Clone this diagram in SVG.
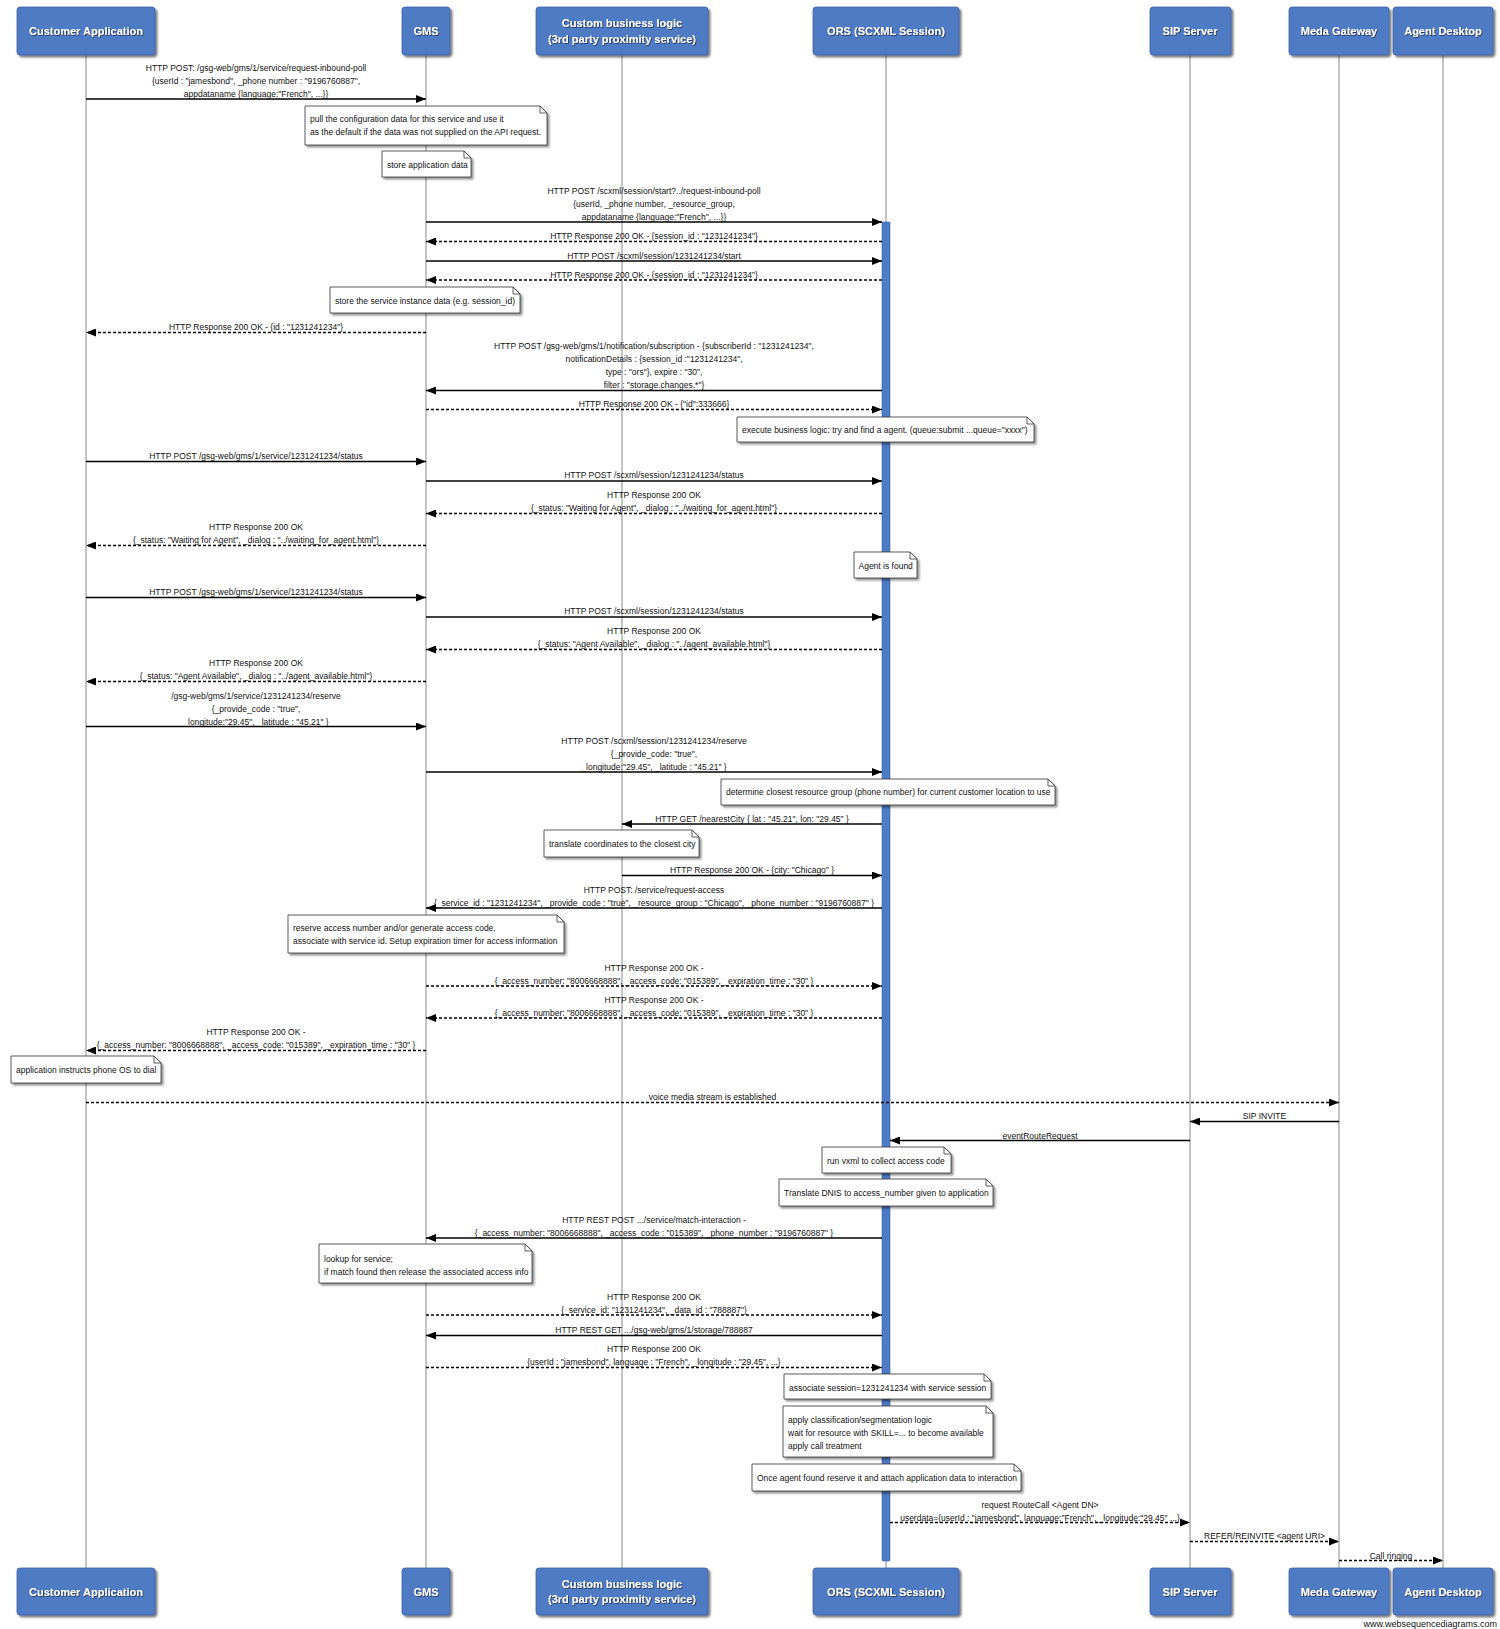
<svg xmlns="http://www.w3.org/2000/svg" width="1500" height="1629" viewBox="0 0 1500 1629">
<style>
.bg{fill:#fff}
.life{stroke:#8a8a8a;stroke-width:1;fill:none}
.pbox{fill:#4f7ac4;stroke:#3d62a6;stroke-width:0.8;filter:url(#bs)}
.pt{font-family:"Liberation Sans",Arial,sans-serif;font-size:11px;font-weight:bold;fill:#fff;text-anchor:middle;filter:url(#ts)}
.m{font-family:"Liberation Sans",Arial,sans-serif;font-size:8.5px;fill:#111;text-anchor:middle}
.nt{font-family:"Liberation Sans",Arial,sans-serif;font-size:8.5px;fill:#111;text-anchor:start}
.ln{stroke:#000;stroke-width:1.4;fill:none;marker-end:url(#ah)}
.ds{stroke-dasharray:3,2}
.nb{fill:#fff;stroke:#333;stroke-width:0.8;filter:url(#ns)}
.nf{fill:none;stroke:#333;stroke-width:0.8}
.act{fill:#4f7ac4;stroke:#3d62a6;stroke-width:0.6}
.foot{font-family:"Liberation Sans",Arial,sans-serif;font-size:9px;fill:#111;text-anchor:end}
</style>
<defs>
<filter id="bs" x="-10%" y="-10%" width="130%" height="140%"><feDropShadow dx="2" dy="2" stdDeviation="1.3" flood-color="#000" flood-opacity="0.55"/></filter>
<filter id="ns" x="-10%" y="-20%" width="130%" height="150%"><feDropShadow dx="2" dy="2" stdDeviation="1" flood-color="#000" flood-opacity="0.45"/></filter>
<filter id="ts" x="-10%" y="-30%" width="130%" height="170%"><feDropShadow dx="0.8" dy="0.8" stdDeviation="0.4" flood-color="#1b2a4a" flood-opacity="0.9"/></filter>
<marker id="ah" viewBox="0 0 10 8" refX="10" refY="4" markerWidth="10" markerHeight="8" markerUnits="userSpaceOnUse" orient="auto"><path d="M0,0 L10,4 L0,8 z" fill="#000"/></marker>
</defs>
<rect class="bg" x="0" y="0" width="1500" height="1629"/>

<g id="lifelines">
<line class="life" x1="86" y1="55" x2="86" y2="1568"/>
<line class="life" x1="426" y1="55" x2="426" y2="1568"/>
<line class="life" x1="622" y1="55" x2="622" y2="1568"/>
<line class="life" x1="886" y1="55" x2="886" y2="1568"/>
<line class="life" x1="1190" y1="55" x2="1190" y2="1568"/>
<line class="life" x1="1339" y1="55" x2="1339" y2="1568"/>
<line class="life" x1="1443" y1="55" x2="1443" y2="1568"/>
</g>

<g id="activation-ors">
<rect class="act" x="882" y="222" width="8" height="1339" rx="1"/>
</g>

<g id="p-customer">
<rect class="pbox" x="17" y="7" width="138" height="48" rx="3"/>
<text class="pt" x="86" y="35">Customer Application</text>
<rect class="pbox" x="17" y="1568" width="138" height="47" rx="3"/>
<text class="pt" x="86" y="1595.5">Customer Application</text>
</g>
<g id="p-gms">
<rect class="pbox" x="402" y="7" width="48" height="48" rx="3"/>
<text class="pt" x="426" y="35">GMS</text>
<rect class="pbox" x="402" y="1568" width="48" height="47" rx="3"/>
<text class="pt" x="426" y="1595.5">GMS</text>
</g>
<g id="p-custom">
<rect class="pbox" x="536" y="7" width="172" height="48" rx="3"/>
<text class="pt" x="622" y="27">Custom business logic</text>
<text class="pt" x="622" y="43">(3rd party proximity service)</text>
<rect class="pbox" x="536" y="1568" width="172" height="47" rx="3"/>
<text class="pt" x="622" y="1587.7">Custom business logic</text>
<text class="pt" x="622" y="1603.3">(3rd party proximity service)</text>
</g>
<g id="p-ors">
<rect class="pbox" x="813" y="7" width="146" height="48" rx="3"/>
<text class="pt" x="886" y="35">ORS (SCXML Session)</text>
<rect class="pbox" x="813" y="1568" width="146" height="47" rx="3"/>
<text class="pt" x="886" y="1595.5">ORS (SCXML Session)</text>
</g>
<g id="p-sip">
<rect class="pbox" x="1150" y="7" width="81" height="48" rx="3"/>
<text class="pt" x="1190" y="35">SIP Server</text>
<rect class="pbox" x="1150" y="1568" width="81" height="47" rx="3"/>
<text class="pt" x="1190" y="1595.5">SIP Server</text>
</g>
<g id="p-media">
<rect class="pbox" x="1289" y="7" width="100" height="48" rx="3"/>
<text class="pt" x="1339" y="35">Meda Gateway</text>
<rect class="pbox" x="1289" y="1568" width="100" height="47" rx="3"/>
<text class="pt" x="1339" y="1595.5">Meda Gateway</text>
</g>
<g id="p-agent">
<rect class="pbox" x="1393" y="7" width="100" height="48" rx="3"/>
<text class="pt" x="1443" y="35">Agent Desktop</text>
<rect class="pbox" x="1393" y="1568" width="100" height="47" rx="3"/>
<text class="pt" x="1443" y="1595.5">Agent Desktop</text>
</g>

<g id="connectors">
<line class="ln" x1="86" y1="99" x2="426" y2="99"/>
<text class="m" x="256" y="71">HTTP POST: /gsg-web/gms/1/service/request-inbound-poll</text>
<text class="m" x="256" y="84">{userId : "jamesbond", _phone number : "9196760887",</text>
<text class="m" x="256" y="97">appdataname {language:"French", ...}}</text>

<line class="ln" x1="426" y1="222" x2="882" y2="222"/>
<text class="m" x="654" y="194">HTTP POST /scxml/session/start?../request-inbound-poll</text>
<text class="m" x="654" y="207">{userId, _phone number, _resource_group,</text>
<text class="m" x="654" y="220">appdataname {language:"French", ...}}</text>

<line class="ln ds" x1="882" y1="241.5" x2="426" y2="241.5"/>
<text class="m" x="654" y="239">HTTP Response 200 OK - {session_id : "1231241234"}</text>

<line class="ln" x1="426" y1="261" x2="882" y2="261"/>
<text class="m" x="654" y="258.5">HTTP POST /scxml/session/1231241234/start</text>

<line class="ln ds" x1="882" y1="280" x2="426" y2="280"/>
<text class="m" x="654" y="277.5">HTTP Response 200 OK - {session_id : "1231241234"}</text>

<line class="ln ds" x1="426" y1="332.5" x2="86" y2="332.5"/>
<text class="m" x="256" y="329.5">HTTP Response 200 OK - {id : "1231241234"}</text>

<line class="ln" x1="882" y1="390.5" x2="426" y2="390.5"/>
<text class="m" x="654" y="349">HTTP POST /gsg-web/gms/1/notification/subscription - {subscriberId : "1231241234",</text>
<text class="m" x="654" y="362">notificationDetails : {session_id :"1231241234",</text>
<text class="m" x="654" y="375">type : "ors"}, expire : "30",</text>
<text class="m" x="654" y="388">filter : "storage.changes.*"}</text>

<line class="ln ds" x1="426" y1="409.5" x2="882" y2="409.5"/>
<text class="m" x="654" y="407">HTTP Response 200 OK - {"id":333666}</text>

<line class="ln" x1="86" y1="461.5" x2="426" y2="461.5"/>
<text class="m" x="256" y="459">HTTP POST /gsg-web/gms/1/service/1231241234/status</text>

<line class="ln" x1="426" y1="481" x2="882" y2="481"/>
<text class="m" x="654" y="478">HTTP POST /scxml/session/1231241234/status</text>

<line class="ln ds" x1="882" y1="513.5" x2="426" y2="513.5"/>
<text class="m" x="654" y="498">HTTP Response 200 OK</text>
<text class="m" x="654" y="511">{_status: "Waiting for Agent", _dialog : "../waiting_for_agent.html"}</text>

<line class="ln ds" x1="426" y1="545.5" x2="86" y2="545.5"/>
<text class="m" x="256" y="530">HTTP Response 200 OK</text>
<text class="m" x="256" y="543">{_status: "Waiting for Agent", _dialog : "../waiting_for_agent.html"}</text>

<line class="ln" x1="86" y1="597.5" x2="426" y2="597.5"/>
<text class="m" x="256" y="595">HTTP POST /gsg-web/gms/1/service/1231241234/status</text>

<line class="ln" x1="426" y1="617" x2="882" y2="617"/>
<text class="m" x="654" y="614">HTTP POST /scxml/session/1231241234/status</text>

<line class="ln ds" x1="882" y1="649.5" x2="426" y2="649.5"/>
<text class="m" x="654" y="634">HTTP Response 200 OK</text>
<text class="m" x="654" y="647">{_status: "Agent Available", _dialog : "../agent_available.html"}</text>

<line class="ln ds" x1="426" y1="681.5" x2="86" y2="681.5"/>
<text class="m" x="256" y="666">HTTP Response 200 OK</text>
<text class="m" x="256" y="679">{_status: "Agent Available", _dialog : "../agent_available.html"}</text>

<line class="ln" x1="86" y1="726.5" x2="426" y2="726.5"/>
<text class="m" x="256" y="698.5">/gsg-web/gms/1/service/1231241234/reserve</text>
<text class="m" x="256" y="711.5">{_provide_code : "true",</text>
<text class="m" x="256" y="724.5">_longitude:"29.45", _latitude : "45.21" }</text>

<line class="ln" x1="426" y1="772" x2="882" y2="772"/>
<text class="m" x="654" y="744">HTTP POST /scxml/session/1231241234/reserve</text>
<text class="m" x="654" y="757">{_provide_code: "true",</text>
<text class="m" x="654" y="770">_longitude:"29.45", _latitude : "45.21" }</text>

<line class="ln" x1="882" y1="824" x2="622" y2="824"/>
<text class="m" x="752" y="821.5">HTTP GET /nearestCity { lat : "45.21", lon: "29.45" }</text>

<line class="ln" x1="622" y1="875.5" x2="882" y2="875.5"/>
<text class="m" x="752" y="873">HTTP Response 200 OK - {city: "Chicago" }</text>

<line class="ln" x1="882" y1="908" x2="426" y2="908"/>
<text class="m" x="654" y="892.5">HTTP POST: /service/request-access</text>
<text class="m" x="654" y="905.5">{_service_id : "1231241234", _provide_code : "true", _resource_group : "Chicago", _phone_number : "9196760887" }</text>

<line class="ln ds" x1="426" y1="986" x2="882" y2="986"/>
<text class="m" x="654" y="970.5">HTTP Response 200 OK -</text>
<text class="m" x="654" y="983.5">{_access_number: "8006668888", _access_code: "015389", _expiration_time : "30" }</text>

<line class="ln ds" x1="882" y1="1018" x2="426" y2="1018"/>
<text class="m" x="654" y="1002.5">HTTP Response 200 OK -</text>
<text class="m" x="654" y="1015.5">{_access_number: "8006668888", _access_code: "015389", _expiration_time : "30" }</text>

<line class="ln ds" x1="426" y1="1050.5" x2="86" y2="1050.5"/>
<text class="m" x="256" y="1035">HTTP Response 200 OK -</text>
<text class="m" x="256" y="1048">{_access_number: "8006668888", _access_code: "015389", _expiration_time : "30" }</text>

<line class="ln ds" x1="86" y1="1102.5" x2="1339" y2="1102.5"/>
<text class="m" x="712.5" y="1100">voice media stream is established</text>

<line class="ln" x1="1339" y1="1121.5" x2="1190" y2="1121.5"/>
<text class="m" x="1264.5" y="1119">SIP INVITE</text>

<line class="ln" x1="1190" y1="1140.5" x2="890" y2="1140.5"/>
<text class="m" x="1040" y="1138.5">eventRouteRequest</text>

<line class="ln" x1="882" y1="1238" x2="426" y2="1238"/>
<text class="m" x="654" y="1222.5">HTTP REST POST .../service/match-interaction -</text>
<text class="m" x="654" y="1235.5">{_access_number: "8006668888", _access_code : "015389", _phone_number : "9196760887" }</text>

<line class="ln ds" x1="426" y1="1315" x2="882" y2="1315"/>
<text class="m" x="654" y="1300">HTTP Response 200 OK</text>
<text class="m" x="654" y="1313">{_service_id: "1231241234", _data_id : "788887"}</text>

<line class="ln" x1="882" y1="1335.5" x2="426" y2="1335.5"/>
<text class="m" x="654" y="1332.5">HTTP REST GET .../gsg-web/gms/1/storage/788887</text>

<line class="ln ds" x1="426" y1="1367.5" x2="882" y2="1367.5"/>
<text class="m" x="654" y="1352">HTTP Response 200 OK</text>
<text class="m" x="654" y="1365">{userId : "jamesbond", language : "French", _longitude : "29.45", ...}</text>

<line class="ln ds" x1="890" y1="1522.5" x2="1190" y2="1522.5"/>
<text class="m" x="1040" y="1507.5">request RouteCall &lt;Agent DN&gt;</text>
<text class="m" x="1040" y="1520.5">userdata={userId : "jamesbond", language:"French", _longitude:"29.45" ...}</text>

<line class="ln ds" x1="1190" y1="1541.5" x2="1339" y2="1541.5"/>
<text class="m" x="1264.5" y="1539">REFER/REINVITE &lt;agent URI&gt;</text>

<line class="ln ds" x1="1339" y1="1560.5" x2="1443" y2="1560.5"/>
<text class="m" x="1391" y="1558.5">Call ringing</text>
</g>

<g id="note-config">
<path class="nb" d="M305,106 H540 L547,113 V145 H305 Z"/><path class="nf" d="M540,106 V113 H547"/>
<text class="nt" x="310" y="122">pull the configuration data for this service and use it</text>
<text class="nt" x="310" y="135">as the default if the data was not supplied on the API request.</text>
</g>
<g id="note-store-app">
<path class="nb" d="M382,151 H464 L471,158 V177 H382 Z"/><path class="nf" d="M464,151 V158 H471"/>
<text class="nt" x="387" y="167.5">store application data</text>
</g>
<g id="note-store-instance">
<path class="nb" d="M330,287 H513 L520,294 V313 H330 Z"/><path class="nf" d="M513,287 V294 H520"/>
<text class="nt" x="335" y="303.5">store the service instance data (e.g. session_id)</text>
</g>
<g id="note-execute">
<path class="nb" d="M737,417 H1027 L1034,424 V442 H737 Z"/><path class="nf" d="M1027,417 V424 H1034"/>
<text class="nt" x="742" y="433">execute business logic: try and find a agent. (queue:submit ...queue="xxxx")</text>
</g>
<g id="note-agent-found">
<path class="nb" d="M854,552 H910 L917,559 V578 H854 Z"/><path class="nf" d="M910,552 V559 H917"/>
<text class="nt" x="858.5" y="568.5">Agent is found</text>
</g>
<g id="note-determine">
<path class="nb" d="M721,779 H1048 L1055,786 V805 H721 Z"/><path class="nf" d="M1048,779 V786 H1055"/>
<text class="nt" x="726" y="795">determine closest resource group (phone number) for current customer location to use</text>
</g>
<g id="note-translate-coords">
<path class="nb" d="M544,830 H692 L699,837 V857 H544 Z"/><path class="nf" d="M692,830 V837 H699"/>
<text class="nt" x="549" y="847">translate coordinates to the closest city</text>
</g>
<g id="note-reserve">
<path class="nb" d="M288,915 H557 L564,922 V953 H288 Z"/><path class="nf" d="M557,915 V922 H564"/>
<text class="nt" x="293" y="931">reserve access number and/or generate access code,</text>
<text class="nt" x="293" y="944">associate with service id. Setup expiration timer for access information</text>
</g>
<g id="note-dial">
<path class="nb" d="M11,1056 H154 L161,1063 V1083 H11 Z"/><path class="nf" d="M154,1056 V1063 H161"/>
<text class="nt" x="16" y="1073">application instructs phone OS to dial</text>
</g>
<g id="note-vxml">
<path class="nb" d="M822,1147 H944 L951,1154 V1173 H822 Z"/><path class="nf" d="M944,1147 V1154 H951"/>
<text class="nt" x="827" y="1164">run vxml to collect access code</text>
</g>
<g id="note-dnis">
<path class="nb" d="M779,1179 H986 L993,1186 V1206 H779 Z"/><path class="nf" d="M986,1179 V1186 H993"/>
<text class="nt" x="784" y="1196">Translate DNIS to access_number given to application</text>
</g>
<g id="note-lookup">
<path class="nb" d="M319,1244 H525 L532,1251 V1283 H319 Z"/><path class="nf" d="M525,1244 V1251 H532"/>
<text class="nt" x="324" y="1261.5">lookup for service;</text>
<text class="nt" x="324" y="1274.5">if match found then release the associated access info</text>
</g>
<g id="note-associate">
<path class="nb" d="M784,1374 H984 L991,1381 V1399 H784 Z"/><path class="nf" d="M984,1374 V1381 H991"/>
<text class="nt" x="789" y="1390.5">associate session=1231241234 with service session</text>
</g>
<g id="note-classification">
<path class="nb" d="M783,1406 H986 L993,1413 V1457 H783 Z"/><path class="nf" d="M986,1406 V1413 H993"/>
<text class="nt" x="788" y="1423">apply classification/segmentation logic</text>
<text class="nt" x="788" y="1436">wait for resource with SKILL=... to become available</text>
<text class="nt" x="788" y="1449">apply call treatment</text>
</g>
<g id="note-once-agent">
<path class="nb" d="M752,1464 H1014 L1021,1471 V1491 H752 Z"/><path class="nf" d="M1014,1464 V1471 H1021"/>
<text class="nt" x="757" y="1481">Once agent found reserve it and attach application data to interaction</text>
</g>

<text class="foot" x="1497" y="1627">www.websequencediagrams.com</text>
</svg>
